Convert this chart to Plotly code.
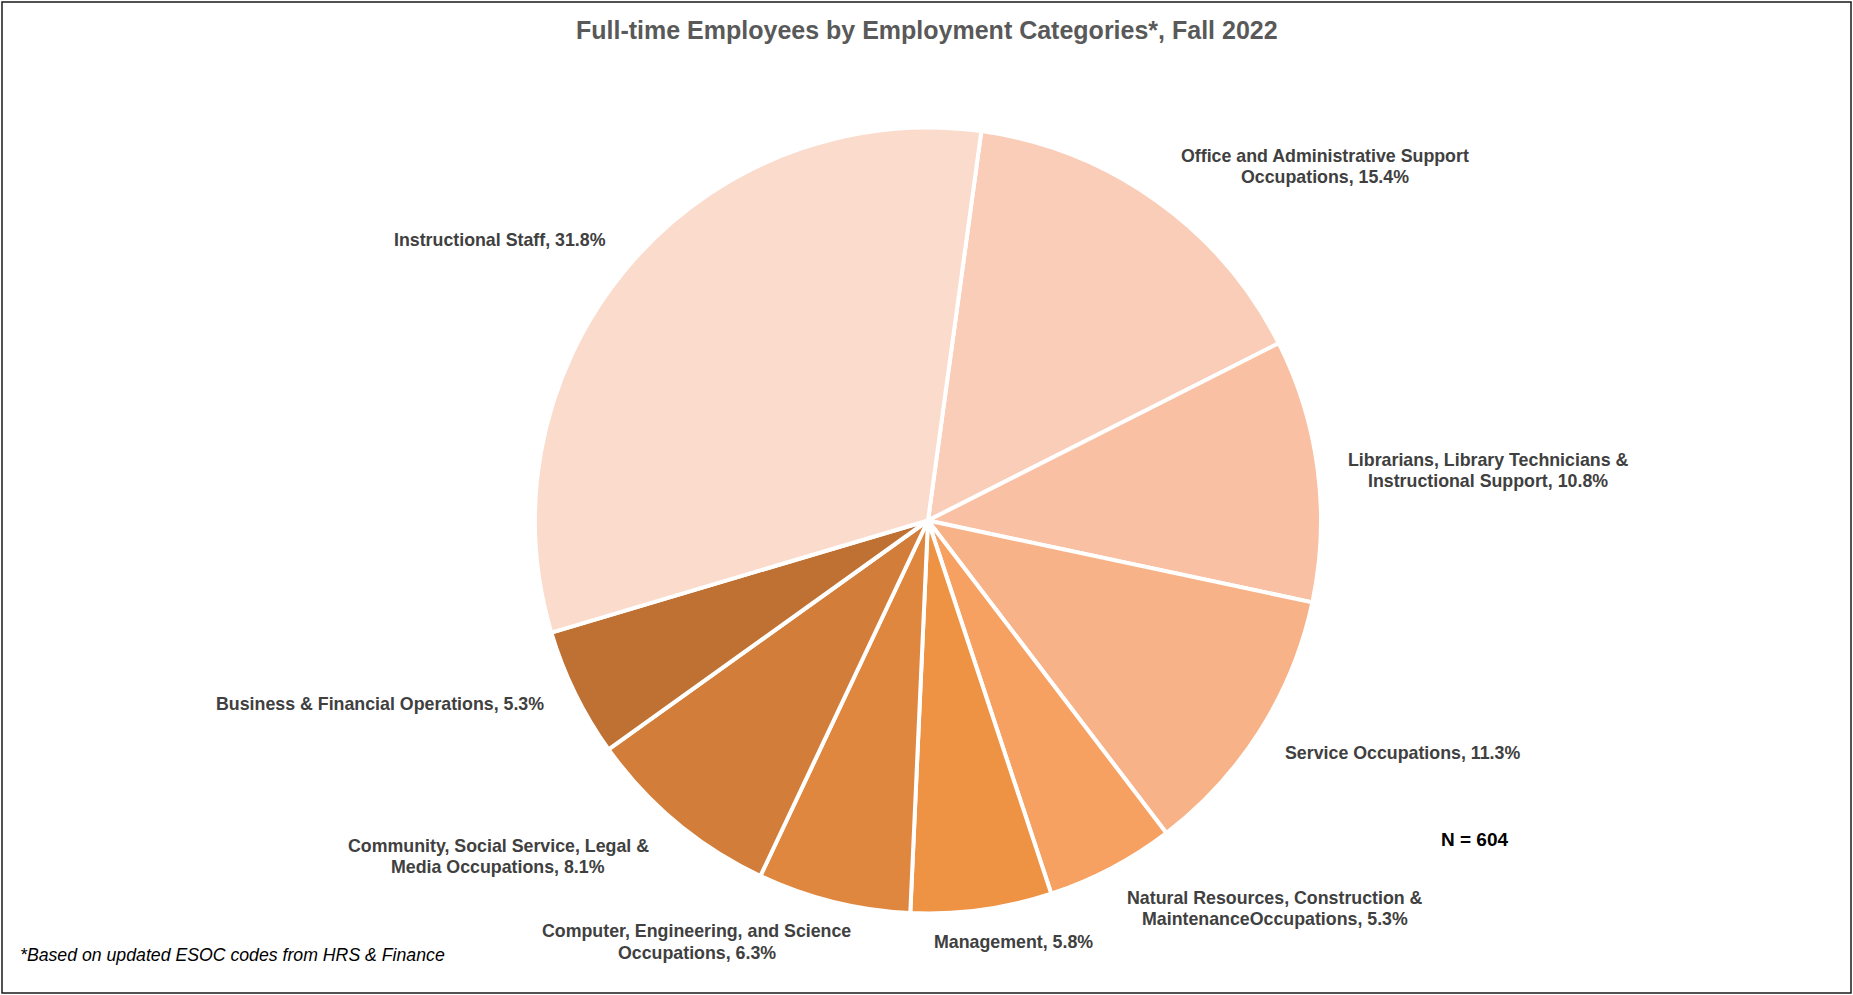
import plotly.graph_objects as go

# Full-time employees by employment category (percent of N = 604), clockwise from top
categories = [
    "Office and Administrative Support<br>Occupations",
    "Librarians, Library Technicians &<br>Instructional Support",
    "Service Occupations",
    "Natural Resources, Construction &<br>MaintenanceOccupations",
    "Management",
    "Computer, Engineering, and Science<br>Occupations",
    "Community, Social Service, Legal &<br>Media Occupations",
    "Business & Financial Operations",
    "Instructional Staff",
]
percents = [15.4, 10.8, 11.3, 5.3, 5.8, 6.3, 8.1, 5.3, 31.8]
colors = [
    "#F9CDB7", "#F9C0A3", "#F8B288", "#F6A062", "#EE9244",
    "#E0873F", "#D27E3A", "#BE7133", "#FADBCC",
]
# label anchor points (paper fractions) for the outside category labels
label_x = [0.715, 0.803, 0.757, 0.688, 0.547, 0.376, 0.269, 0.205, 0.270]
label_y = [0.8326, 0.5273, 0.2434, 0.0866, 0.0534, 0.0534, 0.1389, 0.292, 0.759]

title_text = "Full-time Employees by Employment Categories*, Fall 2022"
n_text = "N = 604"
note_text = "*Based on updated ESOC codes from HRS & Finance"

W, H = 1853, 995
LINE_GAP = 21.3  # px between lines of a two-line label

fig = go.Figure(
    go.Pie(
        labels=categories,
        values=percents,
        sort=False,
        direction="clockwise",
        rotation=7.8,
        marker=dict(colors=colors, line=dict(color="white", width=4)),
        textinfo="none",
        hoverinfo="label+percent",
        showlegend=False,
        domain=dict(x=[535 / W, 1321 / W], y=[(H - 914) / H, (H - 127) / H]),
    )
)

label_font = dict(family="Liberation Sans, Arial, sans-serif", size=17.8, color="#404040")
annotations = []
for cat, pct, x, y in zip(categories, percents, label_x, label_y):
    lines = f"{cat}, {pct:.1f}%".split("<br>")
    n = len(lines)
    for i, line in enumerate(lines):
        annotations.append(dict(
            x=x, y=y, xref="paper", yref="paper",
            yshift=((n - 1) / 2 - i) * LINE_GAP,
            text=f"<b>{line}</b>",
            showarrow=False, xanchor="center", yanchor="middle", align="center",
            font=label_font,
        ))

annotations.append(dict(
    x=1475 / W, y=1 - 839 / H, xref="paper", yref="paper",
    text=f"<b>{n_text}</b>", showarrow=False, xanchor="center", yanchor="middle",
    font=dict(family="Liberation Sans, Arial, sans-serif", size=19, color="#000000"),
))
annotations.append(dict(
    x=18 / W, y=1 - 955 / H, xref="paper", yref="paper",
    text=f"<i>{note_text}</i>", showarrow=False, xanchor="left", yanchor="middle",
    font=dict(family="Liberation Sans, Arial, sans-serif", size=17.7, color="#000000"),
))
annotations.append(dict(
    x=927 / W, y=1 - 30 / H, xref="paper", yref="paper",
    text=f"<b>{title_text}</b>", showarrow=False, xanchor="center", yanchor="middle",
    font=dict(family="Liberation Sans, Arial, sans-serif", size=25, color="#595959"),
))

fig.update_layout(
    width=W, height=H,
    margin=dict(l=0, r=0, t=0, b=0),
    paper_bgcolor="white",
    plot_bgcolor="white",
    annotations=annotations,
    shapes=[dict(
        type="rect", xref="paper", yref="paper",
        x0=2 / W, x1=1 - 2 / W, y0=2 / H, y1=1 - 2 / H,
        line=dict(color="#1a1a1a", width=1.5), fillcolor="rgba(0,0,0,0)",
    )],
)

fig.write_html("out.html")
